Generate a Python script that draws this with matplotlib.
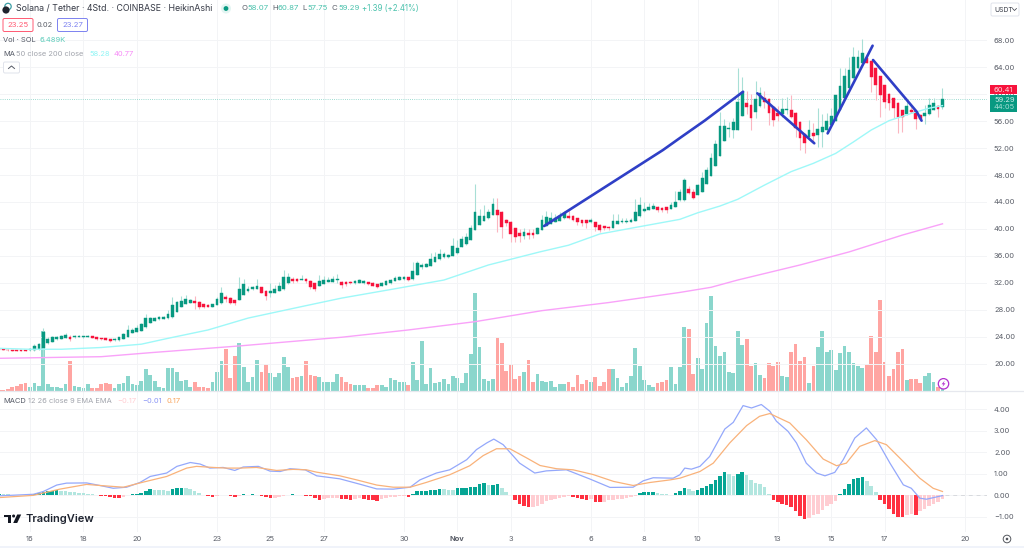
import matplotlib
matplotlib.use('Agg')
import matplotlib.pyplot as plt
from matplotlib.patches import Rectangle, FancyBboxPatch, Circle, Polygon

plt.rcParams['font.family'] = ['Inter', 'DejaVu Sans']

# bar number 0 is the first 4h candle of Oct 16, each day has 6 candles
first_bar = -7
opens = [22.2,22.15,22.1,22.05,22.0,22.0,22.05,22.0,22.0,22.15,
         22.3,23.05,23.25,23.65,23.75,23.85,24.05,24.0,24.0,23.95,
         24.05,24.1,23.95,23.85,23.8,23.7,23.5,23.5,23.75,24.05,
         24.65,24.75,24.95,25.45,26.1,26.35,26.6,26.7,26.75,26.9,
         27.75,28.5,28.9,29.1,29.4,29.25,28.85,28.75,28.5,28.75,
         29.0,29.9,29.8,29.45,29.5,30.2,30.85,31.05,31.15,31.35,
         30.85,30.45,30.55,30.8,31.05,31.95,32.65,32.55,32.5,32.55,
         32.35,31.95,31.55,31.85,32.15,32.15,32.45,32.2,32.2,32.2,
         32.0,32.05,32.0,32.15,32.0,31.85,31.55,31.75,31.95,32.35,
         32.45,32.55,32.85,32.55,33.2,34.3,34.4,34.5,35.1,35.5,
         35.8,35.8,36.0,36.4,37.4,37.75,38.35,39.85,40.6,41.25,
         41.6,42.05,42.8,42.55,41.4,41.1,40.1,39.45,38.99,39.45,
         39.45,39.25,39.85,40.45,40.75,41.1,41.25,41.6,41.95,41.9,
         41.6,41.35,41.3,41.0,41.0,40.6,40.45,40.35,40.2,40.75,
         41.0,41.0,41.1,41.25,41.9,42.65,42.8,42.95,43.2,43.15,
         43.2,42.95,43.3,44.3,44.3,45.9,45.55,45.05,45.55,46.65,
         47.85,49.35,50.8,53.1,54.8,54.65,54.65,56.75,58.6,58.35,
         57.4,58.2,59.4,59.2,58.15,57.15,57.05,57.6,57.6,57.25,
         55.9,54.05,53.65,54.15,53.9,54.4,54.65,55.4,56.05,57.65,
         59.35,60.85,62.3,63.8,64.65,65.3,64.95,63.8,62.65,61.35,
         60.0,59.35,58.7,57.6,57.05,57.6,57.5,56.9,56.75,57.05,
         57.7,58.2,58.07]
closes = [22.1,22.05,22.0,21.95,21.95,21.95,21.95,22.15,22.65,22.95,
          24.8,23.65,23.95,24.05,24.15,24.3,23.75,24.15,24.15,24.1,
          24.2,23.9,23.7,23.65,23.6,23.4,23.75,23.95,24.45,25.05,
          25.05,25.3,25.9,26.75,26.85,26.85,26.9,26.95,27.4,28.75,
          29.25,29.35,29.6,29.5,29.0,28.5,28.4,28.5,28.9,29.7,
          30.45,29.6,29.1,29.1,31.05,31.8,31.1,31.45,31.55,30.55,
          30.05,30.85,31.05,31.55,32.95,32.95,32.35,32.35,32.65,32.25,
          31.45,31.05,32.3,32.45,32.45,32.55,32.6,31.7,31.85,31.95,
          32.3,32.45,32.3,31.85,31.6,31.45,32.05,32.35,32.45,32.8,
          32.95,32.85,32.45,33.8,35.0,34.65,34.75,35.5,35.8,36.25,
          36.25,36.1,37.5,37.2,38.45,38.75,40.1,42.45,41.9,41.9,
          42.45,43.65,42.05,40.25,40.85,39.25,38.75,38.95,39.6,39.15,
          39.1,40.15,41.35,41.85,41.6,41.6,41.9,42.3,41.7,41.4,
          41.1,40.85,40.85,41.35,40.25,39.85,40.1,40.1,41.2,41.25,
          41.25,41.25,41.35,42.45,43.55,42.9,43.3,43.45,42.8,42.8,
          42.8,43.55,44.05,45.53,47.25,45.3,44.55,46.5,47.6,48.75,
          50.45,52.55,55.25,55.25,54.95,55.9,58.85,60.35,58.1,56.4,
          59.2,60.2,58.85,57.25,56.15,56.75,57.75,57.85,56.55,54.9,
          53.45,52.8,54.65,53.75,54.75,55.15,56.05,56.75,59.85,61.2,
          62.65,63.55,65.5,65.5,66.1,64.65,62.55,61.35,59.85,58.85,
          58.7,57.9,56.55,56.55,58.2,57.4,56.25,56.25,57.25,58.4,
          58.7,57.85,59.29]
highs = [22.3,22.2,22.15,22.1,22.05,22.05,22.1,22.3,22.9,23.1,
         25.4,24.05,24.15,24.2,24.3,24.55,24.35,24.3,24.25,24.2,
         24.35,24.2,24.0,23.9,23.85,23.75,23.85,24.05,24.6,25.8,
         25.3,25.8,26.1,27.4,27.0,27.0,27.05,27.05,28.0,29.85,
         29.4,30.0,30.2,29.7,30.05,29.3,28.9,28.85,28.95,29.9,
         31.35,30.2,29.85,29.5,32.85,32.55,31.5,31.6,32.55,31.45,
         30.9,32.0,31.7,32.2,33.9,33.45,32.95,32.7,33.2,32.7,
         32.45,32.0,33.2,33.0,32.9,33.0,33.3,32.3,32.3,32.3,
         32.5,32.6,32.5,32.2,32.1,31.9,32.2,32.5,32.6,33.0,
         33.1,33.0,32.9,35.15,35.3,34.9,35.0,36.4,36.65,37.0,
         36.65,36.3,38.6,38.4,39.0,39.4,40.6,46.7,43.0,43.6,
         43.0,44.55,44.55,42.6,41.5,41.15,40.15,40.0,40.1,40.0,
         40.0,40.3,42.0,42.7,42.5,42.2,42.55,42.6,42.8,42.0,
         41.7,41.4,41.4,41.7,41.05,40.7,40.5,40.4,42.15,42.2,
         41.7,41.6,41.6,44.4,44.7,44.0,43.8,43.9,43.4,43.3,
         43.3,44.0,45.6,46.0,47.6,46.4,45.9,46.7,48.4,49.2,
         51.2,53.2,57.4,56.3,55.9,56.5,63.9,62.5,60.4,60.0,
         61.9,61.05,60.4,59.4,58.2,58.2,59.35,59.6,59.85,57.3,
         56.0,54.1,56.15,55.75,57.9,57.1,57.2,57.9,59.9,63.8,
         63.8,65.5,67.0,66.5,68.1,66.0,65.0,63.85,62.7,61.4,
         60.1,59.4,58.75,57.65,58.9,58.1,57.55,57.0,58.4,59.4,
         59.35,58.3,60.87]
lows = [22.05,22.0,21.95,21.9,21.9,21.9,21.9,21.95,21.85,22.1,
        21.1,22.95,23.2,23.6,23.7,23.8,23.35,23.9,23.95,23.9,
        24.0,23.85,23.6,23.6,23.55,23.2,23.45,23.45,23.7,24.0,
        24.6,24.7,24.9,25.4,26.05,26.3,26.55,26.65,26.7,26.85,
        27.7,28.45,28.85,29.05,28.1,28.2,28.3,28.4,28.45,28.7,
        28.95,29.2,28.85,28.8,29.45,30.15,30.7,31.0,31.1,30.5,
        29.45,29.95,30.5,30.75,31.0,31.9,31.95,32.2,32.4,32.0,
        31.1,30.8,31.5,31.8,32.1,32.1,32.0,31.3,31.6,31.8,
        31.9,32.0,31.9,31.7,31.5,31.3,31.5,31.7,31.9,32.3,
        32.4,32.5,32.3,32.5,33.15,34.0,34.3,34.45,35.05,35.45,
        35.75,35.75,35.95,36.35,37.35,37.7,38.3,39.8,40.55,41.2,
        41.55,42.0,39.5,38.65,40.5,38.0,38.0,38.1,38.5,38.5,
        38.7,39.2,39.8,40.4,40.7,41.0,41.2,41.55,41.5,41.2,
        40.6,40.5,40.1,40.9,39.75,39.6,39.9,39.9,40.15,40.7,
        40.9,40.9,41.0,41.2,41.85,42.5,42.75,42.9,42.45,42.5,
        42.4,42.9,43.25,44.2,44.2,45.2,44.4,45.0,45.5,46.6,
        47.8,49.3,50.75,53.05,53.7,53.5,54.6,56.7,57.0,54.6,
        56.5,58.1,58.0,55.4,55.2,56.0,56.6,57.0,56.5,53.7,
        51.7,51.2,53.5,52.7,52.2,52.2,54.1,55.3,56.0,57.6,
        59.3,60.8,62.25,63.75,64.6,64.6,60.3,59.1,56.55,57.9,
        57.6,56.4,54.2,54.4,56.9,57.2,54.8,56.1,55.55,56.9,
        57.6,56.6,57.75]
volumes = [1,1,2,6.4,7.5,10,12.8,5.3,12.8,8,
           96,10,5.9,6.4,3.7,10.7,47.4,7.5,5.9,4.8,
           10,3.7,4.8,10,12.3,10,3.7,10,12.8,23.5,
           10.7,9,15.5,35,25,16,5.9,4.8,36,36,
           29,16,17,5.9,13,6.4,5.9,4.8,13,29,
           47,66,20,55,76,37,13,22,49,29,
           43,28,22,28,54,37,20,21,23,47,
           25,24,21,13,13,13,27,21,14,10,
           8.5,8.5,8.5,4.8,4.8,9,9,5.3,20,17,
           14,14,8.5,46,17,79,10,36,12,14,
           19,11,24,20,12,28,59,156,69,18,
           15,19,85,76,31,43,19,24,30,49,
           14,26,16,13,15,5.3,11,10,14,5.3,
           25,11,17,14,21,7.5,14,35,35,20,
           6.4,12,24,68,39,17,9,6.4,12,14,
           17,38,10,38,101,99,27,52,35,108,
           151,71,55,62,30,28,95,73,83,40,
           44,25,20,44,39,45,23,22,62,75,
           47,54,12,39,70,96,62,65,33,60,
           72,62,44,39,36,43,87,62,145,46,
           23,34,62,67,17,19,19,12,23,28,
           13,5,6.489]
hist = [.08,.07,.05,.03,.02,.02,.03,.04,.08,.12,
        .16,.18,.2,.25,.22,.2,.17,.15,.12,.1,
        .08,.05,.03,-.01,-.05,-.08,-.1,-.12,-.08,.02,
        .06,.08,.1,.2,.28,.26,.25,.24,.2,.3,
        .33,.34,.33,.3,.22,.12,.03,-.04,-.06,-.03,
        .03,.02,-.04,-.07,-.02,.06,.04,.07,.04,-.02,
        -.08,-.12,-.1,-.06,-.03,.03,.05,.02,.01,-.02,
        -.05,-.12,-.2,-.15,-.14,-.12,-.1,-.17,-.19,-.21,
        -.15,-.13,-.18,-.2,-.21,-.24,-.15,-.12,-.09,-.07,
        -.05,-.03,-.06,.08,.18,.2,.22,.24,.27,.3,
        .28,.26,.25,.33,.35,.36,.37,.39,.55,.57,
        .5,.5,.52,.35,.15,.01,-.22,-.4,-.5,-.53,
        -.53,-.5,-.4,-.28,-.22,-.17,-.13,-.08,-.03,-.07,
        -.12,-.17,-.2,-.15,-.3,-.33,-.33,-.22,-.2,-.17,
        -.15,-.12,-.09,-.04,.13,.15,.16,.17,.1,.07,
        .05,.04,.1,.2,.33,.28,.2,.27,.33,.42,
        .52,.7,.92,1.07,1.0,.9,1.0,1.1,.95,.7,
        .58,.55,.37,.08,-.2,-.32,-.4,-.45,-.55,-.75,
        -.95,-1.1,-1.05,-.9,-.85,-.7,-.5,-.4,-.28,.08,
        .3,.55,.77,.83,.87,.65,.45,.15,-.2,-.42,
        -.65,-.85,-1.0,-1.03,-.9,-.85,-.9,-.75,-.65,-.5,
        -.4,-.3,-.17]

# moving averages, read at the bends only
ma50_x = [-7,0,7,16,25,31,40,49,61,70,83,93,103,114.5,121,128,137,146,150,155,159,165,171,176,181,185,189,193,198,202,205]
ma50 = [22.32,22.18,22.18,22.44,22.93,23.8,25.04,26.8,28.5,29.76,31.26,32.44,34.67,36.6,37.6,39.26,40.35,41.43,42.4,43.4,44.4,46.5,48.5,49.73,51.2,52.9,54.67,56.05,57.13,57.9,58.28]
ma200_x = [-7,16,27,47,70,85,100,115,130,146,153,159,173,184,196,205]
ma200 = [20.84,21.08,21.67,22.67,23.96,25.04,26.27,27.9,29.1,30.6,31.36,32.44,34.67,36.6,39.1,40.77]

macd_x = [-6.7,.75,3,6,8.2,12.7,15.7,18.7,21.7,24.7,27,30.7,33,36,38.2,40.4,43.4,46,47.9,51.3,53.9,56.2,58.4,61.8,64.4,
          69.6,74.1,77.9,81.6,85.4,87.6,91.3,94.3,98.1,100.3,102.6,104.2,106.3,110,113.4,116,120.5,125.8,130.3,135.5,137.8,140,144.5,
          146,147.1,148.6,150.5,152.7,156.1,158,160.2,162.1,164.3,166.2,167.7,170.3,172.2,174.4,176.7,178.6,180.8,182.7,185.3,187.9,190.2,193.2,196.2,198,199.9,201.4,205]
macd = [-.02,.05,.18,.48,.57,.58,.46,.33,.38,.6,.88,1.04,1.35,1.53,1.46,1.27,1.3,1.16,1.32,1.35,1.13,1.11,1.24,1.19,.91,
        .77,.52,.3,.29,.38,.72,1.04,1.19,1.66,2.13,2.44,2.62,2.36,1.5,1.04,1.14,1.19,.76,.37,.38,.68,.82,.8,
        .96,1.27,1.22,1.35,1.81,3.09,3.4,4.18,4.07,4.23,3.92,3.45,2.98,2.44,1.5,1.04,.91,1.07,1.66,2.67,3.14,2.59,1.5,.49,.33,-.13,-.18,-.01]
signal_x = [-6.7,.75,6.7,12.7,15.7,21,25.5,30.7,35.2,37.4,41.2,44.2,47.2,50.9,55.4,59.1,62.1,64.4,69.6,
            73.4,77.9,81.6,85.4,89,94.3,98.8,101.8,104.8,107.8,111.6,114.6,118.3,122,126.5,131.1,135.5,139.3,143.8,146,
            150.5,153.5,157.2,161,163.9,166.2,170.7,174.4,178.2,181.2,183.4,186.4,189.8,192.4,195.4,199.9,202.9,205]
signal = [-.1,0,.29,.51,.46,.38,.62,.88,1.27,1.35,1.3,1.27,1.27,1.3,1.16,1.21,1.19,1.08,.91,
          .72,.48,.38,.38,.6,.96,1.38,1.85,2.17,2.17,1.74,1.39,1.24,1.19,.97,.65,.46,.6,.72,.8,
          1.11,1.5,2.44,3.25,3.68,3.81,3.37,2.59,1.69,1.38,1.5,2.28,2.55,2.36,1.74,.8,.33,.18]

# hand drawn trend lines on the chart
trend_lines = [([115.5,142.2,146,151.6,160.2], [40.44,51.7,53.48,56.07,60.34]),
               ([163.4,176.2], [60.1,52.7]),
               ([179.2,189.3], [54.17,67.16]),
               ([189.4,199.2,200.3], [65.04,57.38,56.05])]

price_ticks = [20,24,28,32,36,40,44,48,52,56,60,64,68]
macd_ticks = [-1,0,1,2,3,4]
macd_tick_labels = ['\u22121.00','0.00','1.00','2.00','3.00','4.00']
date_days = [0,2,4,7,9,11,14,16,18,21,23,25,28,30,32,35]
date_labels = ['16','18','20','23','25','27','30','Nov','3','6','8','10','13','15','17','20']

GREEN = '#089981'
RED = '#f7133c'
GRID = '#f3f4f6'
TEXT = '#5a5e68'

bars = [first_bar + i for i in range(len(opens))]
date_ticks = [d*6 for d in date_days]
W, H = 1024, 548
PANE_R, SPLIT, PANE_B = 987, 390.5, 532

fig = plt.figure(figsize=(W/100, H/100), dpi=100, facecolor='white')
ax = fig.add_axes([0, 1-SPLIT/H, PANE_R/W, SPLIT/H])
ax_vol = ax.twinx()
ax_macd = fig.add_axes([0, 1-PANE_B/H, PANE_R/W, (PANE_B-SPLIT)/H])

x_lim = (-6.74, 215)
ax.set_xlim(x_lim)
ax.set_ylim(16.07, 73.93)
ax_vol.set_ylim(0, SPLIT*1.6)
ax_vol.set_yticks([])
ax_macd.set_xlim(x_lim)
ax_macd.set_ylim(-1.706, 4.883)

for a in (ax, ax_vol, ax_macd):
    for s in a.spines.values():
        s.set_visible(False)

ax.set_zorder(2)
ax.patch.set_visible(False)
ax_vol.set_zorder(1)

# grid
ax.set_axisbelow(True)
ax_macd.set_axisbelow(True)
for a in (ax, ax_macd):
    a.grid(True, color=GRID, linewidth=0.7)
    a.set_xticks(date_ticks)
    a.yaxis.tick_right()
ax.set_yticks(price_ticks)
ax.set_yticklabels(['%.2f' % p for p in price_ticks])
ax.tick_params(axis='y', length=0, pad=5, labelsize=5.4, labelcolor=TEXT)
ax.tick_params(axis='x', length=0, labelbottom=False)
ax_macd.set_yticks(macd_ticks)
ax_macd.set_yticklabels(macd_tick_labels)
ax_macd.tick_params(axis='y', length=0, pad=5, labelsize=5.4, labelcolor=TEXT)
ax_macd.set_xticks(date_ticks)
ax_macd.set_xticklabels(date_labels)
ax_macd.tick_params(axis='x', length=0, pad=3, labelsize=5.4, labelcolor=TEXT)
ax_macd.get_xticklabels()[date_labels.index('Nov')].set_fontweight('bold')

# volume
ups = [c >= o for o, c in zip(opens, closes)]
ax_vol.bar(bars, volumes, width=0.84, color=['#8ad6cc' if u else '#ffa5a2' for u in ups], linewidth=0)

# candles
wick_c = ['#a8dfd6' if u else '#fbb6c0' for u in ups]
ax.vlines(bars, lows, highs, colors=wick_c, linewidth=0.8, zorder=3)
body_h = [c-o for o, c in zip(opens, closes)]
ax.bar(bars, body_h, bottom=opens, width=0.62, color=[GREEN if u else RED for u in ups],
       edgecolor=[GREEN if u else RED for u in ups], linewidth=0.3, zorder=4)

# moving averages
ax.plot(ma50_x, ma50, color='#9ef8f8', linewidth=1.0, zorder=5)
ax.plot(ma200_x, ma200, color='#f9a2f9', linewidth=1.0, zorder=5)

# trend lines
for tx, ty in trend_lines:
    ax.plot(tx, ty, color='#2f3fc6', linewidth=1.9, solid_capstyle='round', zorder=6)

# last price line
ax.axhline(closes[-1], color='#7fd0c3', linewidth=0.6, linestyle=(0, (1, 1.6)), zorder=2)

# MACD pane
hist_c = []
prev = hist[0]
for v in hist:
    if v >= 0:
        hist_c.append('#05a594' if v >= prev else '#b2e6df')
    else:
        hist_c.append('#ff3040' if v < prev else '#ffcdd2')
    prev = v
ax_macd.bar(bars, hist, width=0.8, color=hist_c, linewidth=0)
ax_macd.plot(macd_x, macd, color='#94a8fb', linewidth=0.9, zorder=3)
ax_macd.plot(signal_x, signal, color='#f9b27a', linewidth=0.9, zorder=3)
ax_macd.plot([205.5, 215], [0, 0], color='#d8dade', linewidth=0.7, linestyle=(0, (4, 4)))

# everything around the chart goes on an overlay in pixels
ov = fig.add_axes([0, 0, 1, 1], zorder=10)
ov.set_xlim(0, W)
ov.set_ylim(H, 0)
ov.axis('off')

def txt(x, y, s, color=TEXT, size=5.4, **kw):
    kw.setdefault('ha', 'left')
    kw.setdefault('va', 'center')
    return ov.text(x, y, s, color=color, fontsize=size, **kw)

def box(x, y, w, h, face='white', edge='none', lw=0.7, rad=1.5):
    ov.add_patch(FancyBboxPatch((x+rad, y+rad), w-2*rad, h-2*rad, boxstyle='round,pad=%g' % rad,
                                facecolor=face, edgecolor=edge, linewidth=lw))

# pane separator and bottom strip
ov.plot([0, W], [SPLIT, SPLIT], color='#e6e8ee', linewidth=0.9)
ov.add_patch(Rectangle((0, 545.6), W, 2.4, facecolor='#f0f3fa', edgecolor='none'))

# header legend
ov.add_patch(Circle((8, 6.5), 3.2, facecolor='white', edgecolor='#3c9fa6', linewidth=0.9))
ov.add_patch(Circle((6, 10), 3.6, facecolor='#20242e', edgecolor='none'))
txt(15.5, 8.5, 'Solana / Tether \u00b7 4Std. \u00b7 COINBASE \u00b7 HeikinAshi', color='#353945', size=6.35)
ov.add_patch(Circle((226, 8.5), 5, facecolor='#e3f5f2', edgecolor='none'))
ov.add_patch(Circle((226, 8.5), 2.4, facecolor=GREEN, edgecolor='none'))
ohlc = [(241, 247, 'O', '58.07'), (272, 278, 'H', '60.87'), (302, 307, 'L', '57.75'), (332, 338, 'C', '59.29')]
for x, xv, k, v in ohlc:
    txt(x, 8.5, k, size=5.6)
    txt(xv, 8.5, v, color='#4cc2ad', size=5.6)
txt(362, 8.5, '+1.39 (+2.41%)', color='#4cc2ad', size=5.7)

box(3, 18.5, 30, 13, edge='#ff5a72')
txt(18, 25, '23.25', color='#ff5a72', size=5.6, ha='center')
txt(45, 25, '0.02', size=5.4, ha='center')
box(57.5, 18.5, 30, 13, edge='#7c82f0')
txt(72.5, 25, '23.27', color='#7c82f0', size=5.6, ha='center')

txt(3, 40.3, 'Vol \u00b7 SOL', color='#555a66', size=5.4)
txt(40, 40.3, '6.489K', color='#5ecdbb', size=5.4)
txt(3, 54, 'MA', color='#555a66', size=5.4)
txt(16.5, 54, '50 close 200 close', color='#a2a5ad', size=5.4)
txt(89, 54, '58.28', color='#8ff5f5', size=5.4)
txt(113.5, 54, '40.77', color='#f78af7', size=5.4)
box(3.5, 62, 16, 11, edge='#e0e3eb')
ov.plot([8.5, 11.5, 14.5], [68.5, 66, 68.5], color='#555a66', linewidth=0.7)

txt(3, 401, 'MACD', color='#555a66', size=5.4)
txt(28.5, 401, '12 26 close 9 EMA EMA', color='#a2a5ad', size=5.4)
txt(117, 401, '\u22120.17', color='#ffcdd2', size=5.4)
txt(142, 401, '\u22120.01', color='#8b96f5', size=5.4)
txt(166.5, 401, '0.17', color='#f9a45c', size=5.4)

# price labels on the axis
ov.add_patch(Rectangle((990, 85), 26.5, 9.4, facecolor='#f7133c', edgecolor='none'))
ov.add_patch(Rectangle((990, 95), 26.5, 16.6, facecolor=GREEN, edgecolor='none'))
txt(994, 89.8, '60.41', color='#ffd9de', size=5.4)
txt(994, 100, '59.29', color='#c9ece6', size=5.4)
txt(994, 107, '44:05', color='#a4ded4', size=5.4)

# currency button
box(991, 3, 28, 13, edge='#e0e3eb')
txt(994, 9.5, 'USDT', color='#353945', size=4.9)
ov.plot([1012.5, 1014.5, 1016.5], [8.5, 10.5, 8.5], color='#353945', linewidth=0.5)

# bolt badge on the last volume bar
ov.add_patch(Circle((943.5, 383.8), 5.2, facecolor='white', edgecolor='#b32fcf', linewidth=0.9))
ov.add_patch(Polygon([(944.7, 380.6), (941.6, 384.3), (943.5, 384.3), (942.4, 387), (945.5, 383.3), (943.6, 383.3)],
                     facecolor='#b32fcf', edgecolor='none'))

# settings icon in the corner
ov.add_patch(Circle((1007, 539), 3.8, facecolor='white', edgecolor='#55585f', linewidth=0.7))
ov.add_patch(Circle((1007, 539), 1.3, facecolor='#55585f', edgecolor='none'))

# TradingView logo
ov.add_patch(Rectangle((4, 514.5), 7, 2.9, facecolor='#131722', edgecolor='none'))
ov.add_patch(Rectangle((7.6, 514.5), 3.4, 8.5, facecolor='#131722', edgecolor='none'))
ov.add_patch(Circle((13.6, 516), 1.5, facecolor='#131722', edgecolor='none'))
ov.add_patch(Polygon([(17.2, 514.5), (21.2, 514.5), (17.2, 523), (13.2, 523)], facecolor='#131722', edgecolor='none'))
txt(25, 519, 'TradingView', color='#1f2430', size=8.0, fontweight='semibold')

fig.savefig('out.png', dpi=100, facecolor='white')
